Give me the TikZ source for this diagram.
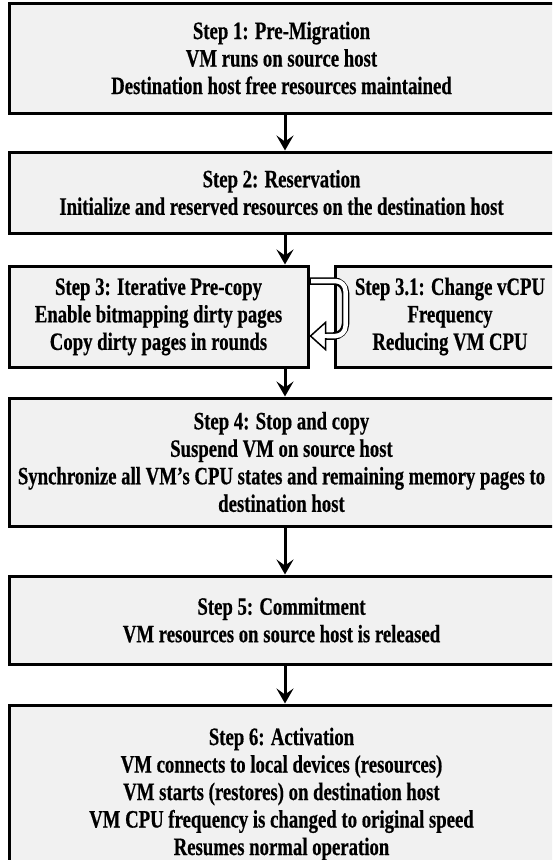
\documentclass[tikz,border=0pt]{standalone}
\usepackage{fontspec}
\setmainfont{Liberation Serif}[FakeStretch=0.75, BoldFeatures={FakeBold=0.5}]
\usetikzlibrary{arrows.meta}
\definecolor{boxfill}{RGB}{241,241,241}
\tikzset{
  stepbox/.style={draw=black, line width=3pt, fill=boxfill, rectangle, inner sep=0pt,
    align=center, font=\fontsize{25}{27.5}\selectfont\bfseries},
  flow/.style={line width=3pt, -{Stealth[length=15pt,width=17pt,inset=6pt]}},
}
\begin{document}
\begin{tikzpicture}[x=1pt,y=-1pt]
\useasboundingbox (0,0) rectangle (552,860);
\clip (0,0) rectangle (552,860);
\node[stepbox, minimum width=545pt, minimum height=110pt] (b1) at (281.5,58)
  {Step 1: Pre-Migration\\VM runs on source host\\Destination host free resources maintained};
\node[stepbox, minimum width=545pt, minimum height=81pt] (b2) at (281.5,192.5)
  {Step 2: Reservation\\Initialize and reserved resources on the destination host};
\node[stepbox, minimum width=299pt, minimum height=101pt] (b3) at (158.5,316.5)
  {Step 3: Iterative Pre-copy\\Enable bitmapping dirty pages\\Copy dirty pages in rounds};
\node[stepbox, minimum width=230pt, minimum height=101pt] (b31) at (450,316.5)
  {Step 3.1: Change vCPU\\Frequency\\Reducing VM CPU};
\node[stepbox, minimum width=545pt, minimum height=128pt] (b4) at (281.5,462)
  {Step 4: Stop and copy\\Suspend VM on source host\\Synchronize all VM's CPU states and remaining memory pages to\\destination host};
\node[stepbox, minimum width=545pt, minimum height=178pt] (b6) at (281.5,794)
  {Step 6: Activation\\VM connects to local devices (resources)\\VM starts (restores) on destination host\\VM CPU frequency is changed to original speed\\Resumes normal operation};
\node[stepbox, minimum width=545pt, minimum height=88pt] (b5) at (281.5,620)
  {Step 5: Commitment\\VM resources on source host is released};
% vertical arrows
\draw[flow] (b1.south -| 285,0) -- (b2.north -| 285,0);
\draw[flow] (b2.south -| 285,0) -- (b3.north -| 285,0);
\draw[flow] (b3.south -| 285,0) -- (b4.north -| 285,0);
\draw[flow] (b4.south -| 285,0) -- (b5.north -| 285,0);
\draw[flow] (b5.south -| 285,0) -- (b6.north -| 285,0);
% hollow U-turn arrow between step 3 and step 3.1
\coordinate (ua) at ([yshift=35.5pt]b3.east);
\coordinate (ub) at ([xshift=36pt,yshift=35.5pt]b3.east);
\coordinate (uc) at ([xshift=36pt,yshift=-19.5pt]b3.east);
\coordinate (ud) at ([xshift=16pt,yshift=-19.5pt]b3.east);
\draw[line width=7.5pt, rounded corners=12pt] (ua) -- (ub) -- (uc) -- (ud);
\draw[line width=4.5pt, white, rounded corners=10pt] ([xshift=1.5pt]ua) -- (ub) -- (uc) -- ([xshift=1pt]ud);
\draw[line width=1.5pt, fill=white, line join=miter]
  ([xshift=16pt,yshift=-6pt]b3.east) -- ([xshift=1pt,yshift=-19.5pt]b3.east) -- ([xshift=16pt,yshift=-33pt]b3.east) -- cycle;
\fill[white] ([xshift=14pt,yshift=-17.3pt]b3.east) rectangle ([xshift=18pt,yshift=-21.7pt]b3.east);
\end{tikzpicture}
\end{document}
